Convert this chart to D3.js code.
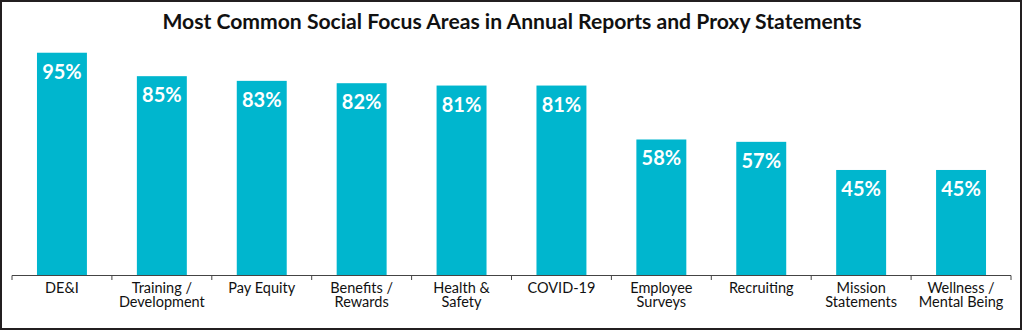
<!DOCTYPE html>
<html>
<head>
<meta charset="utf-8">
<script src="https://cdn.jsdelivr.net/npm/d3@7"></script>
<style>
  html, body { margin: 0; padding: 0; background: #fff; }
  svg { display: block; }
  text { font-family: Lato, "Noto Sans", sans-serif; }
</style>
</head>
<body>
<svg id="chart" width="1024" height="332"></svg>
<script>
// Social focus areas and share of companies reporting on each
const categories = [
  ["DE&I"],
  ["Training /", "Development"],
  ["Pay Equity"],
  ["Benefits /", "Rewards"],
  ["Health &", "Safety"],
  ["COVID-19"],
  ["Employee", "Surveys"],
  ["Recruiting"],
  ["Mission", "Statements"],
  ["Wellness /", "Mental Being"]
];
const values = [95, 85, 83, 82, 81, 81, 58, 57, 45, 45];
const valueLabels = ["95%", "85%", "83%", "82%", "81%", "81%", "58%", "57%", "45%", "45%"];
const titleText = "Most Common Social Focus Areas in Annual Reports and Proxy Statements";

const svg = d3.select("#chart");
const barColor = "#00B6CE";

// Frame
svg.append("rect")
  .attr("x", 1).attr("y", 1)
  .attr("width", 1020).attr("height", 328)
  .attr("fill", "#fff")
  .attr("stroke", "#231f20")
  .attr("stroke-width", 2);

// Title, sized to span 700px
const title = svg.append("text")
  .attr("x", 512).attr("y", 29)
  .attr("text-anchor", "middle")
  .attr("font-weight", 700)
  .attr("font-size", 18)
  .attr("fill", "#111")
  .text(titleText);
const tw = title.node().getComputedTextLength();
title.attr("font-size", 18 * 700 / tw);

const keys = categories.map((c, i) => i);
const x = d3.scaleBand()
  .domain(keys)
  .range([12, 1011])
  .paddingInner(0.5)
  .paddingOuter(0.25);

const baseY = 275.5;
const y = d3.scaleLinear().domain([0, 100]).range([baseY, 41]);

// Bars
svg.append("g").selectAll("rect")
  .data(values)
  .join("rect")
  .attr("x", (d, i) => x(i))
  .attr("y", d => y(d))
  .attr("width", x.bandwidth())
  .attr("height", d => baseY - y(d))
  .attr("fill", barColor);

// Value labels inside bar tops
svg.append("g").selectAll("text")
  .data(values)
  .join("text")
  .attr("x", (d, i) => x(i) + x.bandwidth() / 2)
  .attr("y", d => y(d) + 26)
  .attr("text-anchor", "middle")
  .attr("font-weight", 700)
  .attr("font-size", 20)
  .attr("fill", "#fff")
  .text((d, i) => valueLabels[i]);

// Category axis with ticks at band boundaries
const step = x.step();
const axisG = svg.append("g");
axisG.append("line")
  .attr("x1", x.range()[0]).attr("x2", x.range()[1])
  .attr("y1", baseY).attr("y2", baseY)
  .attr("stroke", "#444").attr("stroke-width", 1);
axisG.selectAll("line.tick")
  .data(d3.range(keys.length + 1))
  .join("line")
  .attr("class", "tick")
  .attr("x1", i => x.range()[0] + i * step)
  .attr("x2", i => x.range()[0] + i * step)
  .attr("y1", baseY).attr("y2", baseY + 4.5)
  .attr("stroke", "#444").attr("stroke-width", 1);

// Category labels, one text per line
const catG = svg.append("g");
categories.forEach((lines, i) => {
  lines.forEach((ln, j) => {
    catG.append("text")
      .attr("x", x(i) + x.bandwidth() / 2)
      .attr("y", 293 + j * 13.7)
      .attr("text-anchor", "middle")
      .attr("font-size", 14.5)
      .attr("fill", "#111")
      .text(ln);
  });
});
</script>
</body>
</html>
